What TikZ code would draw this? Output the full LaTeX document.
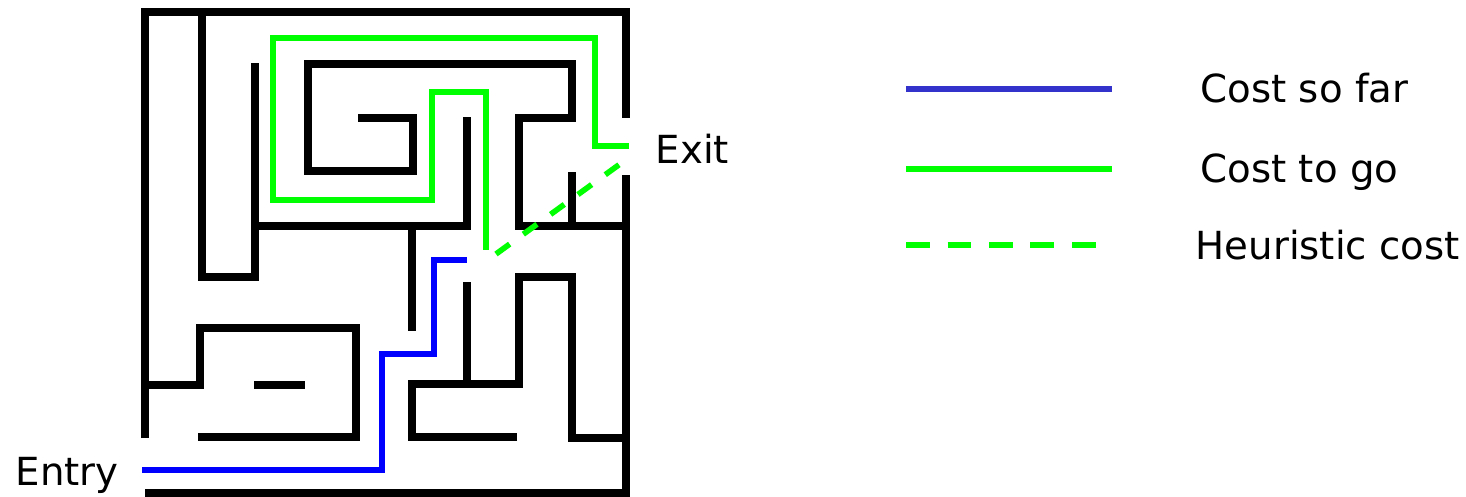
\documentclass[tikz,border=0pt]{standalone}
\usepackage{fontspec}
\setmainfont{DejaVu Sans}
\usetikzlibrary{positioning}
\definecolor{runblue}{RGB}{0,0,255}
\definecolor{keyblue}{RGB}{51,51,204}
\definecolor{goal}{RGB}{0,255,0}
\tikzset{
  wall/.style  ={draw=black, line width=2pt, line join=miter},
  sofar/.style ={draw=runblue, line width=1.6pt},
  togo/.style  ={draw=goal, line width=1.6pt},
  guess/.style ={draw=goal, line width=1.6pt, dash pattern=on 4.8pt off 4.8pt},
  lbl/.style   ={font=\fontsize{11}{13}\selectfont, inner sep=0pt},
}

\begin{document}
\begin{tikzpicture}[x=0.01cm, y=-0.01cm]
  \useasboundingbox (0,0) rectangle (1466,497);
  % outer frame, gaps for entry (left) and exit (right)
  \draw[wall] (145,438) -- (145,12) -- (626,12) -- (626,118);
  \draw[wall] (626,175) -- (626,493) -- (145,493);
  % upper walls
  \draw[wall] (202,12) -- (202,277) -- (255,277) -- (255,63);
  \draw[wall] (255,226) -- (467,226) -- (467,117);
  \draw[wall] (412,226) -- (412,331);
  \draw[wall] (358,118) -- (413,118) -- (413,171) -- (308,171) -- (308,64)
    -- (572,64) -- (572,118) -- (519,118) -- (519,226) -- (626,226);
  \draw[wall] (572,172) -- (572,226);
  % lower walls
  \draw[wall] (145,385) -- (200,385) -- (200,328) -- (356,328) -- (356,437)
    -- (198,437);
  \draw[wall] (254,385) -- (305,385);
  \draw[wall] (467,282) -- (467,384);
  \draw[wall] (517,437) -- (412,437) -- (412,384) -- (519,384) -- (519,277)
    -- (572,277) -- (572,438) -- (626,438);
  % paths
  \draw[sofar] (142,470) -- (382,470) -- (382,354) -- (434,354) -- (434,260)
    -- (467,260);
  \draw[togo] (629,146) -- (595,146) -- (595,38) -- (273,38) -- (273,200)
    -- (432,200) -- (432,92) -- (486,92) -- (486,250);
  \draw[guess] (496,254) -- (620,164);
  \node[lbl, anchor=base west] (exit) at (655,163) {Exit};
  \node[lbl, anchor=base west] (entry) at (15,485) {Entry};
  % key
  \draw[sofar, draw=keyblue] (906,89) -- (1112,89);
  \draw[togo] (906,169) -- (1112,169);
  \draw[guess, dash pattern=on 6.8pt off 5pt] (906,245) -- (1100,245);
  \node[lbl, anchor=base west] (far) at (1200,102) {Cost so far};
  \node[lbl, anchor=base west] (go) at (1200,182) {Cost to go};
  \node[lbl, anchor=base west] (heur) at (1195,259) {Heuristic cost};
\end{tikzpicture}
\end{document}
